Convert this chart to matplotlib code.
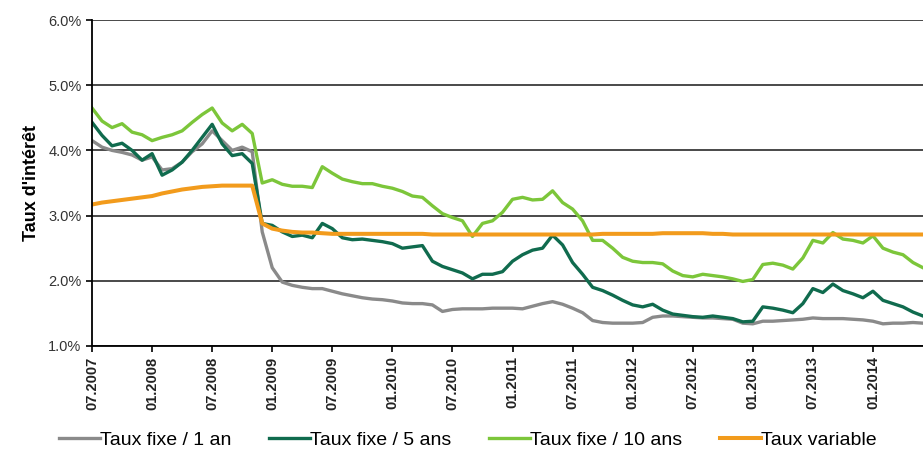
import numpy as np
import matplotlib
matplotlib.use('Agg')
import matplotlib.pyplot as plt

# monthly values, 07.2007 .. 06.2014 (in %)
taux_1an = [4.15, 4.05, 4.00, 3.97, 3.93, 3.85, 3.90, 3.70, 3.72, 3.82, 3.98, 4.10,
            4.30, 4.15, 4.00, 4.05, 3.98, 2.75, 2.20, 1.98, 1.93, 1.90, 1.88, 1.88,
            1.84, 1.80, 1.77, 1.74, 1.72, 1.71, 1.69, 1.66, 1.65, 1.65, 1.63, 1.53,
            1.56, 1.57, 1.57, 1.57, 1.58, 1.58, 1.58, 1.57, 1.61, 1.65, 1.68, 1.64,
            1.58, 1.51, 1.39, 1.36, 1.35, 1.35, 1.35, 1.36, 1.44, 1.46, 1.46, 1.45,
            1.44, 1.43, 1.43, 1.42, 1.41, 1.35, 1.34, 1.38, 1.38, 1.39, 1.40, 1.41,
            1.43, 1.42, 1.42, 1.42, 1.41, 1.40, 1.38, 1.34, 1.35, 1.35, 1.36, 1.35]

taux_5ans = [4.43, 4.23, 4.07, 4.11, 4.00, 3.85, 3.95, 3.62, 3.70, 3.82, 4.00, 4.20,
             4.40, 4.10, 3.92, 3.95, 3.80, 2.88, 2.85, 2.75, 2.68, 2.70, 2.66, 2.88,
             2.80, 2.66, 2.63, 2.64, 2.62, 2.60, 2.57, 2.50, 2.52, 2.54, 2.30, 2.22,
             2.17, 2.12, 2.03, 2.10, 2.10, 2.14, 2.30, 2.40, 2.47, 2.50, 2.70, 2.55,
             2.28, 2.10, 1.90, 1.85, 1.78, 1.70, 1.63, 1.60, 1.64, 1.55, 1.49, 1.47,
             1.45, 1.44, 1.46, 1.44, 1.42, 1.37, 1.38, 1.60, 1.58, 1.55, 1.51, 1.65,
             1.88, 1.82, 1.95, 1.85, 1.80, 1.74, 1.84, 1.70, 1.65, 1.60, 1.52, 1.46]

taux_10ans = [4.65, 4.45, 4.35, 4.41, 4.28, 4.24, 4.15, 4.20, 4.24, 4.30, 4.43, 4.55,
              4.65, 4.42, 4.30, 4.40, 4.26, 3.50, 3.55, 3.48, 3.45, 3.45, 3.43, 3.75,
              3.65, 3.56, 3.52, 3.49, 3.49, 3.45, 3.42, 3.37, 3.30, 3.28, 3.15, 3.03,
              2.97, 2.92, 2.68, 2.88, 2.92, 3.05, 3.25, 3.28, 3.24, 3.25, 3.38, 3.20,
              3.10, 2.92, 2.62, 2.62, 2.50, 2.36, 2.30, 2.28, 2.28, 2.26, 2.15, 2.08,
              2.06, 2.10, 2.08, 2.06, 2.03, 1.99, 2.02, 2.25, 2.27, 2.24, 2.18, 2.35,
              2.62, 2.58, 2.74, 2.64, 2.62, 2.58, 2.69, 2.50, 2.44, 2.40, 2.28, 2.20]

taux_variable = [3.17, 3.20, 3.22, 3.24, 3.26, 3.28, 3.30, 3.34, 3.37, 3.40, 3.42, 3.44,
                 3.45, 3.46, 3.46, 3.46, 3.46, 2.88, 2.80, 2.77, 2.75, 2.74, 2.74, 2.73,
                 2.72, 2.72, 2.72, 2.72, 2.72, 2.72, 2.72, 2.72, 2.72, 2.72, 2.71, 2.71,
                 2.71, 2.71, 2.71, 2.71, 2.71, 2.71, 2.71, 2.71, 2.71, 2.71, 2.71, 2.71,
                 2.71, 2.71, 2.71, 2.72, 2.72, 2.72, 2.72, 2.72, 2.72, 2.73, 2.73, 2.73,
                 2.73, 2.73, 2.72, 2.72, 2.71, 2.71, 2.71, 2.71, 2.71, 2.71, 2.71, 2.71,
                 2.71, 2.71, 2.71, 2.71, 2.71, 2.71, 2.71, 2.71, 2.71, 2.71, 2.71, 2.71]

tick_labels = ['07.2007', '01.2008', '07.2008', '01.2009', '07.2009', '01.2010', '07.2010',
               '01.2011', '07.2011', '01.2012', '07.2012', '01.2013', '07.2013', '01.2014']

names = ['Taux fixe / 1 an', 'Taux fixe / 5 ans', 'Taux fixe / 10 ans', 'Taux variable']
colors = ['#8a8a8a', '#106b4e', '#7cc63a', '#f29b1c']
widths = [2.4, 2.4, 2.4, 2.9]

plt.rcParams['font.family'] = ['Liberation Sans', 'DejaVu Sans']

months = np.arange(len(taux_1an))

fig = plt.figure(figsize=(9.23, 4.55), dpi=100)
ax = fig.add_axes([0.0997, 0.2396, 0.9003, 0.7164])

for serie, name, c, w in zip([taux_1an, taux_5ans, taux_10ans, taux_variable], names, colors, widths):
    ax.plot(months, serie, color=c, lw=w, label=name, solid_joinstyle='round')

ax.set_xlim(0, 83)
ax.set_ylim(1.0, 6.0)
ax.set_yticks(np.arange(1.0, 6.01, 1.0))
ax.set_yticklabels(['%.1f%%' % v for v in np.arange(1.0, 6.01, 1.0)], fontsize=10.5, color='#333333')
ax.set_xticks(np.arange(0, 84, 6))
ax.set_xticklabels(tick_labels, rotation=90, fontsize=10.5, fontweight='bold', color='#222222')
ax.tick_params(axis='both', direction='out', length=4, width=1.2)
ax.yaxis.grid(True, color='#3a3a3a', lw=1.3)
ax.set_axisbelow(True)
for s in ['top', 'right']:
    ax.spines[s].set_visible(False)
ax.spines['left'].set_linewidth(1.3)
ax.spines['bottom'].set_linewidth(1.3)
ax.set_ylabel("Taux d'intérêt", fontsize=13, fontweight='bold', labelpad=6)

fig.legend(loc='lower center', bbox_to_anchor=(0.507, -0.025), ncol=4, frameon=False,
           handlelength=2.1, handletextpad=0.0, columnspacing=1.95,
           prop={'size': 14})

fig.savefig('out.png', dpi=100)
